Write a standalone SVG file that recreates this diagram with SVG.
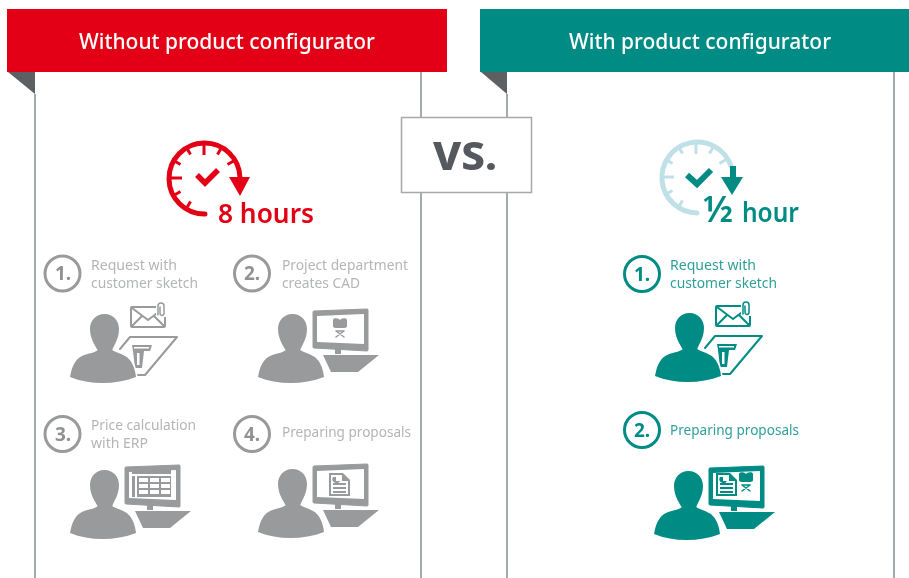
<svg xmlns="http://www.w3.org/2000/svg" width="909" height="578" viewBox="0 0 909 578">
<style>
text{font-family:"Noto Sans","Liberation Sans",sans-serif}
.head{fill:#fff;font-size:22px;font-weight:500;text-anchor:middle}
.edge{stroke:#a6a9ab;stroke-width:2;fill:none}
.fold{fill:#5b6064}
.gray{fill:#999a9c;stroke:none;color:#999a9c}
.teal{fill:#008c85;stroke:none;color:#008c85}
.lbl{font-size:14px}
.gray .lbl{fill:#b3b5b7}
.teal .lbl{fill:#2f9f98}
.ring{fill:none;stroke:currentColor;stroke-width:3}
.num{font-size:19px;font-weight:700;text-anchor:middle;fill:currentColor}
.gray .num{fill:#8f9193}
.line{fill:none;stroke:currentColor;stroke-linecap:round;stroke-linejoin:round}
.wht{fill:#fff}
.red{fill:#e30613;color:#e30613}
.tl{fill:#008c85;color:#008c85}
.big{font-size:27px;font-weight:600}
.halo{fill:#fff;stroke:#fff;stroke-width:3;stroke-linejoin:round}
</style>
<defs>
<filter id="soft" x="-5%" y="-5%" width="110%" height="110%"><feGaussianBlur stdDeviation="0.45"/></filter>
<g id="person">
<path d="M0,-6C2,-18 6,-24 12,-27C18,-30 26,-30 29,-34H41C44,-31 50,-30 55,-27C61,-24 65,-16 66,-6C45,2 20,2 0,-6Z"/>
<path d="M34.500,-69C43.500,-69 49,-62 49,-54C49,-49 47.500,-44 45.500,-40C43.500,-36 42,-33 41,-30H29C28,-33 25.500,-36 23.500,-40C21.500,-44 20,-49 20,-54C20,-62 25.500,-69 34.500,-69Z"/>
</g>
<g id="sitter">
<use href="#person" class="halo"/>
<use href="#person"/>
</g>
<g id="sketch">
<path class="line" stroke-width="2" d="M50,-34L60,-46H107L75,-8H62"/>
<rect class="line" stroke-width="2" x="61" y="-76" width="34" height="20" rx="1"/>
<path class="line" stroke-width="2" d="M62,-75L78,-63L94,-75M62,-57L72,-67M94,-57L84,-67"/>
<path class="wht" d="M86,-82H96V-66H86Z"/>
<path class="line" stroke-width="1.500" d="M88,-68V-77C88,-81 94,-81 94,-77V-69C92,-66 90,-68 90,-70V-76"/>
<path d="M62,-38H82L80,-32H74L72,-15H65L63,-32Z"/>
<rect class="wht" x="64" y="-36" width="15" height="1.500"/>
<rect class="wht" x="67" y="-30" width="2.500" height="12"/>
</g>
<g id="desk">
<path d="M55,-71Q55,-72 56,-72L109,-74Q110,-74 110,-73V-33Q110,-32 109,-32L56,-35Q55,-35 55,-36Z" stroke="currentColor" stroke-width="1" stroke-linejoin="round"/>
<path class="wht" d="M59,-67L106,-69V-39L59,-41Z"/>
<path d="M77,-35H83V-29H77ZM65,-28H121L100,-11H73Z"/>
</g>
<g id="cad">
<path d="M-7,-8C-7,-10 -3,-10 -1,-9L0,-8L1,-9C3,-10 7,-10 7,-8V-2C7,0 4,0 3,0H-3C-4,0 -7,0 -7,-2Z"/>
<path class="line" stroke-width="1.500" d="M-4,3L4,9M4,3L-4,9M-4,3H4"/>
</g>
<g id="doc">
<path d="M0,0H14L21,7V23H0Z"/>
<path class="wht" d="M2,2H13V8H19V21H2Z"/>
<path d="M4,4A4,4 0 1 0 11,8H7V4Z"/>
<rect x="4" y="10" width="13" height="2"/><rect x="4" y="14" width="13" height="2"/><rect x="4" y="18" width="13" height="2"/>
</g>
<g id="table">
<rect x="0" y="0" width="39" height="4"/>
<rect x="0" y="6" width="3" height="21"/>
<path d="M5,6h34v21h-34z"/>
<g class="wht">
<rect x="7" y="8" width="9" height="4"/><rect x="18" y="8" width="9" height="4"/><rect x="29" y="8" width="9" height="4"/>
<rect x="7" y="14" width="9" height="4"/><rect x="18" y="14" width="9" height="4"/><rect x="29" y="14" width="9" height="4"/>
<rect x="7" y="20" width="9" height="4"/><rect x="18" y="20" width="9" height="4"/><rect x="29" y="20" width="9" height="4"/>
</g>
</g>
<g id="ticks">
<path d="M0,-34V-23M-17,-29.500L-13.500,-23.500M17,-29.500L13.500,-23.500M-29.500,-17L-23.500,-13.500M29.500,-17L23.500,-13.500M-34,0H-22M-29.500,17L-23.500,13.500M-17,29.500L-13.500,23.500"/>
</g>
</defs>
<rect width="909" height="578" fill="#fff"/>
<g filter="url(#soft)">
<g id="panel-without">
<rect x="7" y="9" width="440" height="63" fill="#e30613"/>
<text class="head" x="227" y="49" textLength="296" lengthAdjust="spacingAndGlyphs">Without product configurator</text>
<path class="fold" d="M8,72H35V94Z"/>
<path class="edge" d="M35,94V578M421,72V578"/>
</g>
<g id="panel-with">
<rect x="480" y="9" width="429" height="63" fill="#008c85"/>
<text class="head" x="700" y="49" textLength="262" lengthAdjust="spacingAndGlyphs">With product configurator</text>
<path class="fold" d="M481,72H507V94Z"/>
<path class="edge" d="M507,94V578M894,72V578"/>
</g>
<g id="vs">
<rect x="401.500" y="117.500" width="130" height="75" fill="#fff" stroke="#a6a9ab" stroke-width="1.500"/>
<text x="465" y="170" font-size="40" font-weight="800" text-anchor="middle" fill="#54595c" textLength="64" lengthAdjust="spacingAndGlyphs">VS.</text>
</g>

<g id="clock-8-hours" class="red">
<path d="M205,214A35.500,35.500 0 1 1 240,178" fill="none" stroke="currentColor" stroke-width="5" stroke-linecap="round"/>
<use href="#ticks" transform="translate(204,178)" stroke="currentColor" stroke-width="3" fill="none"/>
<path d="M229,177H250L240,196Z"/>
<path d="M197,175L205,183L218,170" fill="none" stroke="currentColor" stroke-width="5.500"/>
<text class="big" x="218" y="223" textLength="96" lengthAdjust="spacingAndGlyphs">8 hours</text>
</g>
<g id="clock-half-hour" class="tl">
<path d="M697,213A35.500,35.500 0 1 1 731,166" fill="none" stroke="#bfe0e6" stroke-width="5" stroke-linecap="round"/>
<use href="#ticks" transform="translate(696,177)" stroke="#bfe0e6" stroke-width="3" fill="none"/>
<path d="M730,166H736V177H743L732,195L721,177H730Z"/>
<path d="M687,175L697,184L711,170" fill="none" stroke="currentColor" stroke-width="6"/>
<text class="big" x="703" y="222"><tspan font-size="36">½</tspan><tspan x="742" textLength="57" lengthAdjust="spacingAndGlyphs">hour</tspan></text>
</g>

<g id="step-left-1" class="gray">
<circle class="ring" cx="62.500" cy="273.500" r="17.500"/>
<text class="num" x="63" y="280">1.</text>
<text class="lbl" x="91" y="270" textLength="86" lengthAdjust="spacingAndGlyphs">Request with</text>
<text class="lbl" x="91" y="288" textLength="107" lengthAdjust="spacingAndGlyphs">customer sketch</text>
<g transform="translate(70,383)"><use href="#sketch"/><use href="#sitter"/></g>
</g>
<g id="step-left-2" class="gray">
<circle class="ring" cx="252" cy="273.500" r="17.500"/>
<text class="num" x="252" y="280">2.</text>
<text class="lbl" x="282" y="270" textLength="126" lengthAdjust="spacingAndGlyphs">Project department</text>
<text class="lbl" x="282" y="288" textLength="78" lengthAdjust="spacingAndGlyphs">creates CAD</text>
<g transform="translate(258,383)"><use href="#desk"/><use href="#sitter"/><use href="#cad" x="82" y="-55"/></g>
</g>
<g id="step-left-3" class="gray">
<circle class="ring" cx="62.500" cy="434" r="17.500"/>
<text class="num" x="63" y="441">3.</text>
<text class="lbl" x="91" y="430" textLength="105" lengthAdjust="spacingAndGlyphs">Price calculation</text>
<text class="lbl" x="91" y="448" textLength="57" lengthAdjust="spacingAndGlyphs">with ERP</text>
<g transform="translate(70,539)"><use href="#desk"/><use href="#sitter"/><use href="#table" x="62" y="-69"/></g>
</g>
<g id="step-left-4" class="gray">
<circle class="ring" cx="252" cy="434" r="17.500"/>
<text class="num" x="252" y="441">4.</text>
<text class="lbl" x="282" y="437" textLength="129" lengthAdjust="spacingAndGlyphs">Preparing proposals</text>
<g transform="translate(258,538)"><use href="#desk"/><use href="#sitter"/><use href="#doc" x="71" y="-65"/></g>
</g>
<g id="step-right-1" class="teal">
<circle class="ring" cx="642" cy="274" r="17.500"/>
<text class="num" x="642" y="281">1.</text>
<text class="lbl" x="670" y="270" textLength="86" lengthAdjust="spacingAndGlyphs">Request with</text>
<text class="lbl" x="670" y="288" textLength="107" lengthAdjust="spacingAndGlyphs">customer sketch</text>
<g transform="translate(655,382)"><use href="#sketch"/><use href="#sitter"/></g>
</g>
<g id="step-right-2" class="teal">
<circle class="ring" cx="642" cy="430" r="17.500"/>
<text class="num" x="642" y="437">2.</text>
<text class="lbl" x="670" y="435" textLength="129" lengthAdjust="spacingAndGlyphs">Preparing proposals</text>
<g transform="translate(654,540)"><use href="#desk"/><use href="#sitter"/><use href="#doc" x="62" y="-67"/><use href="#cad" x="92" y="-58"/></g>
</g>
</g>
</svg>
